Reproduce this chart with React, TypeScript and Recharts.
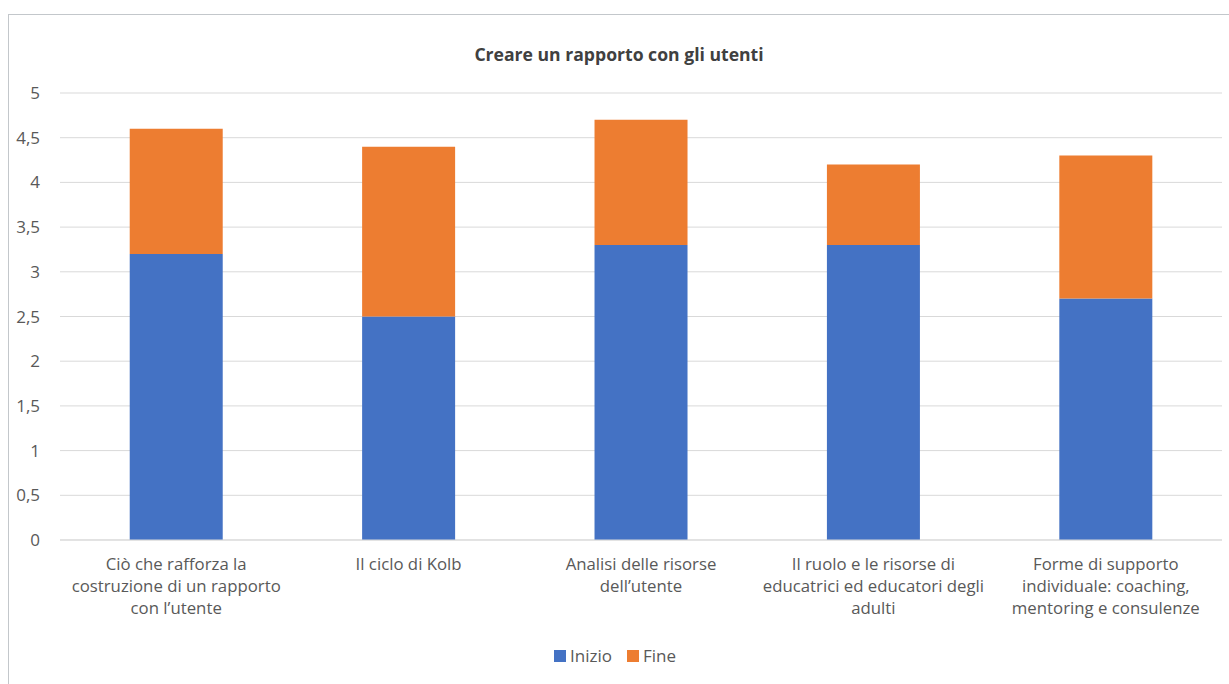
import { BarChart, Bar, XAxis, YAxis, CartesianGrid, Legend } from 'recharts';

// Chart values
const categories = [
  'Ciò che rafforza la costruzione di un rapporto con l’utente',
  'Il ciclo di Kolb',
  'Analisi delle risorse dell’utente',
  'Il ruolo e le risorse di educatrici ed educatori degli adulti',
  'Forme di supporto individuale: coaching, mentoring e consulenze',
];
const categoryLines = [
  ['Ciò che rafforza la', 'costruzione di un rapporto', 'con l’utente'],
  ['Il ciclo di Kolb'],
  ['Analisi delle risorse', 'dell’utente'],
  ['Il ruolo e le risorse di', 'educatrici ed educatori degli', 'adulti'],
  ['Forme di supporto', 'individuale: coaching,', 'mentoring e consulenze'],
];
const inizio = [3.2, 2.5, 3.3, 3.3, 2.7];
const fine = [1.4, 1.9, 1.4, 0.9, 1.6];
const yTicks = [0, 0.5, 1, 1.5, 2, 2.5, 3, 3.5, 4, 4.5, 5];

const FONT = '"Open Sans", Lato, sans-serif';
const TEXT = '#595959';

const data = categories.map((name, i) => ({
  name,
  Inizio: inizio[i],
  Fine: fine[i],
}));

const legendItems = [
  { value: 'Inizio', color: '#4472c4' },
  { value: 'Fine', color: '#ed7d31' },
];

// multi-line category label
const CategoryTick = ({ x, y, payload }: any) => {
  const lines = categoryLines[payload.index] ?? [String(payload.value)];
  return (
    <text x={x} y={y} textAnchor="middle" fill={TEXT} fontSize={16.8} fontFamily={FONT}>
      {lines.map((l, i) => (
        <tspan key={i} x={x} dy={i === 0 ? 30 : 22}>
          {l}
        </tspan>
      ))}
    </text>
  );
};

const LegendContent = () => (
  <div style={{ display: 'flex', justifyContent: 'center', gap: 15, fontFamily: FONT, fontSize: 17, color: TEXT }}>
    {legendItems.map((it) => (
      <span key={it.value} style={{ display: 'flex', alignItems: 'center', gap: 4 }}>
        <span style={{ width: 12, height: 12, background: it.color, display: 'inline-block' }} />
        {it.value}
      </span>
    ))}
  </div>
);

const formatTick = (v: number) => String(v).replace('.', ',');

const App = () => {
  return (
    <div
      style={{
        position: 'fixed',
        left: 8,
        top: 14,
        width: 1221,
        height: 670,
        borderTop: '1px solid #c3c7cb',
        borderLeft: '1px solid #c3c7cb',
        boxSizing: 'border-box',
        background: '#fff',
      }}
    >
      <div
        style={{
          position: 'absolute',
          top: 27,
          left: 0,
          width: '100%',
          textAlign: 'center',
          fontFamily: FONT,
          fontWeight: 700,
          fontSize: 17.6,
          color: '#404040',
        }}
      >
        Creare un rapporto con gli utenti
      </div>
      <BarChart
        width={1220}
        height={669}
        data={data}
        margin={{ top: 79, right: 6, left: 0, bottom: 0 }}
        barCategoryGap="30%"
        style={{ position: 'absolute', left: -1, top: -1 }}
      >
        <CartesianGrid vertical={false} stroke="#d9d9d9" />
        <XAxis
          dataKey="name"
          interval={0}
          height={113}
          tickSize={0}
          tickMargin={0}
          axisLine={{ stroke: '#d9d9d9' }}
          tickLine={false}
          tick={<CategoryTick />}
        />
        <YAxis
          width={52}
          domain={[0, 5]}
          ticks={yTicks}
          axisLine={false}
          tickLine={false}
          tickSize={0}
          tickMargin={20}
          tickFormatter={formatTick}
          tick={{ fill: TEXT, fontSize: 17, fontFamily: FONT }}
        />
        <Legend
          verticalAlign="bottom"
          content={<LegendContent />}
          wrapperStyle={{ height: 30, bottom: 9 }}
        />
        <Bar dataKey="Inizio" stackId="a" fill="#4472c4" isAnimationActive={false} />
        <Bar dataKey="Fine" stackId="a" fill="#ed7d31" isAnimationActive={false} />
      </BarChart>
    </div>
  );
};

export default App;
